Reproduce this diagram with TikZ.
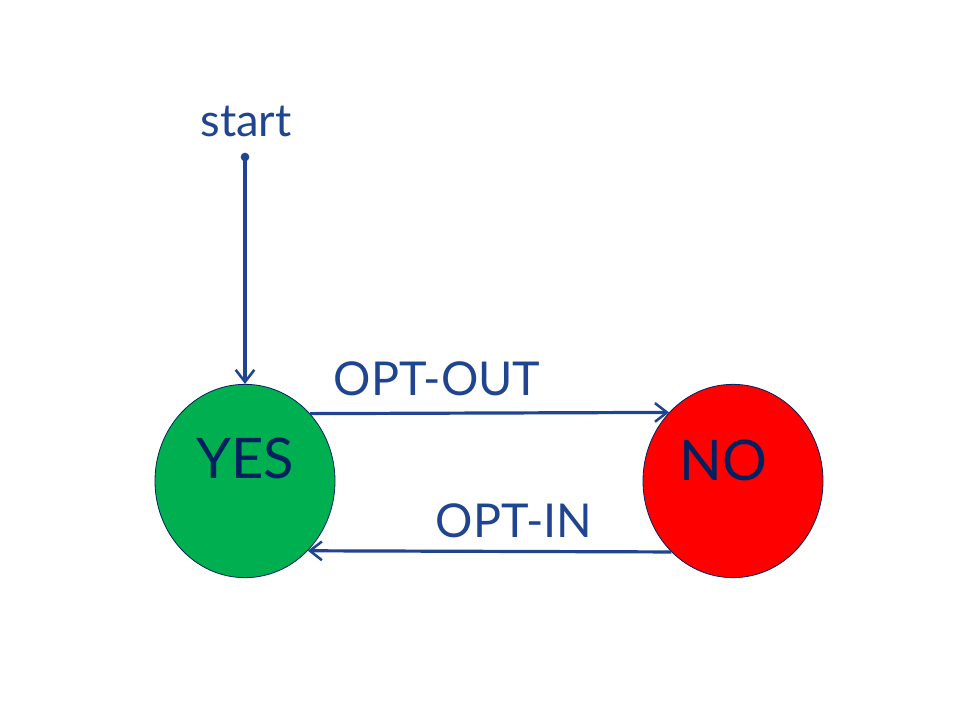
\documentclass[tikz,border=0pt]{standalone}
\usepackage{fontspec}
\setmainfont{Lato}
\usetikzlibrary{shapes.geometric,arrows.meta}
\definecolor{lineblue}{RGB}{31,69,145}
\definecolor{navy}{RGB}{0,32,96}
\definecolor{yesgreen}{RGB}{0,176,80}
\definecolor{nored}{RGB}{255,0,0}
\tikzset{
  state/.style={ellipse, draw=navy, line width=0.6pt, minimum width=135pt, minimum height=145pt, inner sep=0pt},
  statetext/.style={anchor=base, text=navy, font=\fontsize{42pt}{48pt}\selectfont, inner sep=0pt},
  edgetext/.style={anchor=base, text=lineblue, font=\fontsize{35pt}{40pt}\selectfont, inner sep=0pt},
  conn/.style={draw=lineblue, line width=2.4pt, -{Straight Barb[length=9pt,width=14pt,line width=1.9pt]}},
}
\begin{document}
\begin{tikzpicture}[x=0.75pt,y=-0.75pt]
\useasboundingbox (0,0) rectangle (960,720);
\node[state, fill=yesgreen] (yes) at (245,481) {};
\node[state, fill=nored] (no) at (733,481) {};
\node[statetext] (yestxt) at (245,478) {YES};
\node[statetext] (notxt) at (723,480) {NO};
\node[edgetext, font=\fontsize{34pt}{38pt}\selectfont] (starttxt) at (246,137) {start};
\node[circle, fill=lineblue, inner sep=0pt, minimum size=6.5pt] (dot) at (245,157) {};
\draw[conn] (dot.center) -- (yes.north);
\draw[conn] (yes.46.7) -- (no.133.3);
\draw[conn] (no.-131.5) -- (yes.-48.5);
\node[edgetext] (optout) at (437,395) {OPT-OUT};
\node[edgetext] (optin) at (514,537) {OPT-IN};
\end{tikzpicture}
\end{document}
